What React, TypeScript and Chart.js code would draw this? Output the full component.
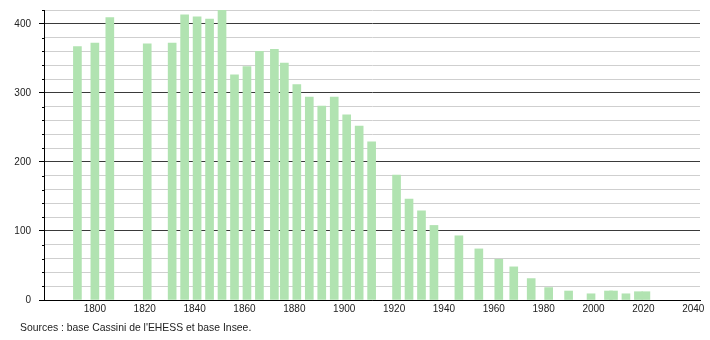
import React, { useEffect, useRef } from "react";
import { Chart, registerables } from "chart.js";

Chart.register(...registerables);

const years = [
  1793, 1800, 1806, 1821, 1831, 1836, 1841, 1846, 1851, 1856, 1861, 1866, 1872,
  1876, 1881, 1886, 1891, 1896, 1901, 1906, 1911, 1921, 1926, 1931, 1936, 1946,
  1954, 1962, 1968, 1975, 1982, 1990, 1999, 2006, 2008, 2013, 2018, 2021,
];
const population = [
  367, 372, 409, 371, 372, 413, 410, 407, 420, 326, 338, 360, 363,
  343, 312, 294, 281, 294, 268, 252, 229, 181, 146, 129, 108, 93,
  74, 59, 48, 31, 18, 13, 9, 13, 13, 9, 12, 12,
];
const xTickLabels = ["1800", "1820", "1840", "1860", "1880", "1900", "1920", "1940", "1960", "1980", "2000", "2020", "2040"];
const yTickLabels = ["0", "100", "200", "300", "400"];
const sourceText = "Sources : base Cassini de l'EHESS et base Insee.";

const FONT = "'Liberation Sans', Arial, sans-serif";

const minorTicks = {
  id: "minorTicks",
  afterDatasetsDraw(chart: any) {
    const y = chart.scales.y;
    const ctx = chart.ctx;
    ctx.save();
    ctx.strokeStyle = "#000";
    ctx.lineWidth = 1;
    for (const t of y.ticks) {
      if (t.value % 100 === 0) continue;
      const py = Math.round(y.getPixelForValue(t.value)) + 0.5;
      ctx.beginPath();
      ctx.moveTo(y.right - 2, py);
      ctx.lineTo(y.right, py);
      ctx.stroke();
    }
    ctx.restore();
  },
};

export default function App() {
  const canvasRef = useRef<HTMLCanvasElement | null>(null);

  useEffect(() => {
    if (!canvasRef.current) return;
    const chart = new Chart(canvasRef.current, {
      type: "bar",
      data: {
        datasets: [
          {
            data: years.map((y, i) => ({ x: y, y: population[i] })),
            backgroundColor: "#b1e3b1",
            borderWidth: 0,
            barThickness: 8,
          },
        ],
      },
      plugins: [minorTicks],
      options: {
        animation: false,
        responsive: true,
        maintainAspectRatio: false,
        layout: { padding: { left: 0, top: 10, right: 10, bottom: 0 } },
        plugins: { legend: { display: false }, tooltip: { enabled: false } },
        scales: {
          x: {
            type: "linear",
            offset: false,
            min: 1779.6,
            max: 2042.7,
            afterFit: (s: any) => {
              s.height = 40;
              s.paddingLeft = 0;
              s.paddingRight = 0;
            },
            grid: { display: false, drawTicks: false, offset: false },
            border: { display: true, color: "#000", width: 1 },
            ticks: {
              stepSize: 20,
              includeBounds: false,
              padding: 3,
              color: "#222",
              font: { family: FONT, size: 10 },
              maxRotation: 0,
              autoSkip: false,
              callback: (v: any) => {
                const s = String(Number(v));
                return xTickLabels.includes(s) ? s : "";
              },
            },
          },
          y: {
            min: 0,
            max: 420,
            afterFit: (s: any) => {
              s.width = 44;
              s.paddingTop = 0;
              s.paddingBottom = 0;
            },
            grid: {
              color: (ctx: any) =>
                ctx.tick && ctx.tick.value % 100 === 0 ? "#3a3a3a" : "#cfcfcf",
              tickColor: (ctx: any) =>
                ctx.tick && ctx.tick.value % 100 === 0 ? "#000" : "rgba(0,0,0,0)",
              tickLength: 5,
              lineWidth: 1,
            },
            border: { display: true, color: "#000", width: 1 },
            ticks: {
              stepSize: 20,
              padding: 8,
              color: "#222",
              font: { family: FONT, size: 10 },
              autoSkip: false,
              callback: (v: any) => {
                const s = String(Number(v));
                return yTickLabels.includes(s) ? s : "";
              },
            },
          },
        },
      },
    });
    return () => chart.destroy();
  }, []);

  return (
    <div
      style={{
        position: "fixed",
        left: 0,
        top: 0,
        width: 710,
        height: 340,
        background: "#fff",
      }}
    >
      <canvas ref={canvasRef} />
      <div
        style={{
          position: "absolute",
          left: 20,
          top: 322,
          fontFamily: FONT,
          fontSize: 10.4,
          color: "#222",
          whiteSpace: "nowrap",
        }}
      >
        {sourceText}
      </div>
    </div>
  );
}
